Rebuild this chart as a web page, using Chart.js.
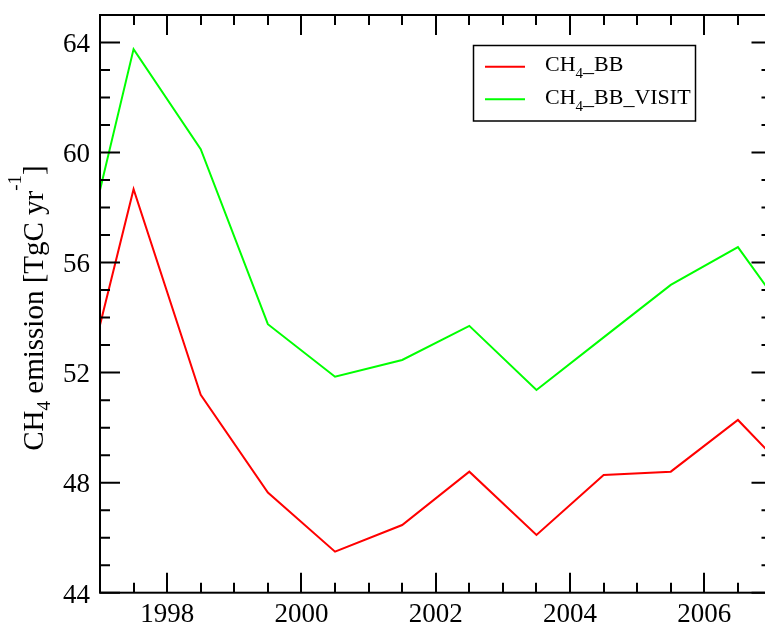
<!DOCTYPE html>
<html>
<head>
<meta charset="utf-8">
<script src="https://cdn.jsdelivr.net/npm/chart.js@4/dist/chart.umd.min.js"></script>
<style>
html,body{margin:0;padding:0;background:#fff;overflow:hidden;width:765px;height:622px;}
#wrap{position:absolute;left:0;top:0;width:785px;height:622px;}
</style>
</head>
<body>
<div id="wrap"><canvas id="c" width="785" height="622"></canvas></div>
<script>
// ---- data ----
const years = [1997.0, 1997.5, 1998.5, 1999.5, 2000.5, 2001.5, 2002.5, 2003.5, 2004.5, 2005.5, 2006.5, 2007.0];
const ch4BB = [53.73, 58.67, 51.19, 47.64, 45.49, 46.46, 48.40, 46.10, 48.28, 48.40, 50.28, 49.01];
const ch4BBVisit = [58.64, 63.76, 60.12, 53.76, 51.85, 52.46, 53.70, 51.37, 53.28, 55.19, 56.56, 54.87];
const seriesNames = ['CH4_BB', 'CH4_BB_VISIT'];
const xTickLabels = [1998, 2000, 2002, 2004, 2006];
const yTickLabels = [44, 48, 52, 56, 60, 64];
const xRange = [1997, 2007];
const yRange = [44, 65];
const xMinorStep = 0.5;
const yMinorStep = 1;

const SERIF = '"Liberation Serif", "DejaVu Serif", serif';

function measureParts(ctx, parts) {
  let w = 0;
  for (const p of parts) { ctx.font = p.size + 'px ' + SERIF; w += ctx.measureText(p.t).width; }
  return w;
}
function drawSubText(ctx, parts, x, y) {
  let cx = x;
  for (const p of parts) {
    ctx.font = p.size + 'px ' + SERIF;
    ctx.fillText(p.t, cx, y + (p.dy || 0));
    cx += ctx.measureText(p.t).width;
  }
  return cx;
}
function splitName(name, big, small, dy) {
  const m = name.match(/^CH4(.*)$/);
  if (!m) return [{t: name, size: big}];
  return [{t: 'CH', size: big}, {t: '4', size: small, dy: dy}, {t: m[1], size: big}];
}

const framePlugin = {
  id: 'frame',
  afterDatasetsDraw(chart) {
    const ctx = chart.ctx;
    const xs = chart.scales.x, ys = chart.scales.y;
    const a = chart.chartArea;
    ctx.save();
    ctx.strokeStyle = '#000';
    ctx.lineWidth = 2;
    ctx.strokeRect(a.left, a.top, a.right - a.left, a.bottom - a.top);
    ctx.beginPath();
    const nx = Math.round((xRange[1] - xRange[0]) / xMinorStep);
    for (let i = 0; i <= nx; i++) {
      const v = xRange[0] + i * xMinorStep;
      const px = Math.round(xs.getPixelForValue(v));
      const len = xTickLabels.includes(v) ? 20 : 10;
      ctx.moveTo(px, a.bottom); ctx.lineTo(px, a.bottom - len);
      ctx.moveTo(px, a.top); ctx.lineTo(px, a.top + len);
    }
    const ny = Math.round((yRange[1] - yRange[0]) / yMinorStep);
    for (let i = 0; i <= ny; i++) {
      const v = yRange[0] + i * yMinorStep;
      const py = ys.getPixelForValue(v);
      const len = yTickLabels.includes(v) ? 20 : 10;
      ctx.moveTo(a.left, py); ctx.lineTo(a.left + len, py);
      ctx.moveTo(a.right, py); ctx.lineTo(a.right - len, py);
    }
    ctx.stroke();

    // tick labels
    ctx.fillStyle = '#000';
    ctx.font = '27px ' + SERIF;
    ctx.textAlign = 'center';
    ctx.textBaseline = 'alphabetic';
    for (const v of xTickLabels) ctx.fillText(String(v), xs.getPixelForValue(v), 622);
    ctx.textAlign = 'right';
    for (const v of yTickLabels) ctx.fillText(String(v), 90, ys.getPixelForValue(v) + 9.8);

    // y-axis title
    const tparts = [
      {t: 'CH', size: 29},
      {t: '4', size: 19, dy: 7},
      {t: ' emission [TgC yr', size: 29},
      {t: '-1', size: 19, dy: -22},
      {t: ']', size: 29}
    ];
    ctx.textAlign = 'left';
    const tw = measureParts(ctx, tparts);
    ctx.save();
    ctx.translate(43, 308 + tw / 2);
    ctx.rotate(-Math.PI / 2);
    drawSubText(ctx, tparts, 0, 0);
    ctx.restore();

    // legend
    ctx.lineWidth = 1.5;
    ctx.strokeStyle = '#000';
    ctx.strokeRect(473.5, 45.5, 222, 75.5);
    const rows = [66.7, 99.3];
    const baselines = [71, 103.5];
    chart.data.datasets.forEach((ds, i) => {
      ctx.strokeStyle = ds.borderColor;
      ctx.lineWidth = 2;
      ctx.beginPath();
      ctx.moveTo(485, rows[i]); ctx.lineTo(525, rows[i]);
      ctx.stroke();
      ctx.fillStyle = '#000';
      drawSubText(ctx, splitName(ds.label, 22, 15, 7), 545, baselines[i]);
    });
    ctx.restore();
  }
};

new Chart(document.getElementById('c'), {
  type: 'line',
  data: {
    datasets: [
      {label: seriesNames[0], data: years.map((x, i) => ({x, y: ch4BB[i]})), borderColor: '#ff0000', borderWidth: 2, pointRadius: 0, tension: 0, fill: false},
      {label: seriesNames[1], data: years.map((x, i) => ({x, y: ch4BBVisit[i]})), borderColor: '#00ff00', borderWidth: 2, pointRadius: 0, tension: 0, fill: false}
    ]
  },
  options: {
    responsive: false,
    animation: false,
    devicePixelRatio: 1,
    layout: {padding: {left: 100, top: 15, right: 13.5, bottom: 29.3}},
    plugins: {legend: {display: false}, tooltip: {enabled: false}},
    scales: {
      x: {type: 'linear', min: xRange[0], max: xRange[1], display: false},
      y: {type: 'linear', min: yRange[0], max: yRange[1], display: false}
    }
  },
  plugins: [framePlugin]
});
</script>
</body>
</html>
